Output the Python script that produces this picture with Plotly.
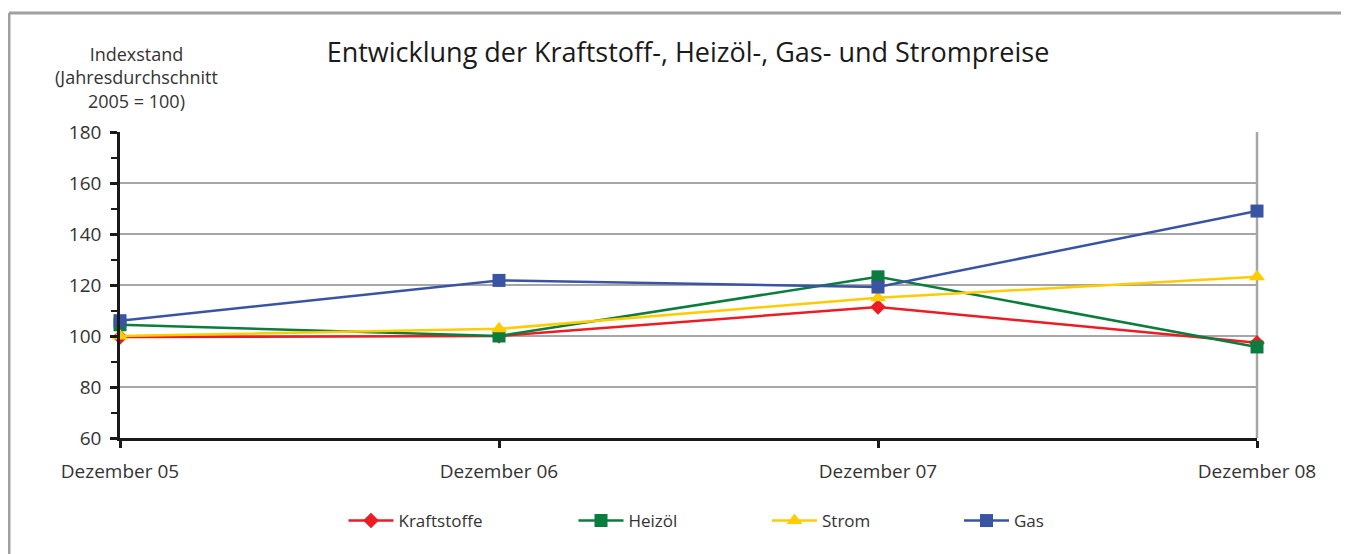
import plotly.graph_objects as go

categories = ["Dezember 05", "Dezember 06", "Dezember 07", "Dezember 08"]
kraftstoffe = [99.6, 100.0, 111.4, 97.3]
heizoel = [104.4, 100.0, 123.2, 95.7]
strom = [100.0, 102.8, 115.0, 123.2]
gas = [106.0, 121.8, 119.2, 149.0]

series_names = ["Kraftstoffe", "Heizöl", "Strom", "Gas"]
series_values = [kraftstoffe, heizoel, strom, gas]
series_colors = ["#ed1c24", "#0a7d3e", "#ffcc00", "#3a54a4"]
series_symbols = ["diamond", "square", "triangle-up", "square"]
series_sizes = [12, 13, 14, 13]

y_ticks = [60, 80, 100, 120, 140, 160, 180]

FONT = "Open Sans"
OFF = 8  # page body margin
W, H = 1349 - OFF, 554 - OFF
# plot area in screen pixels: x 120..1257, y 132..438
L, R, T, B = 120 - OFF, W - (1257 - OFF), 132 - OFF, H - (438 - OFF)
pw, ph = W - L - R, H - T - B

def px_x(x):
    return (x - OFF - L) / pw

def px_y(y):
    return (H - B - (y - OFF)) / ph

legend_ids = ["legend", "legend2", "legend3", "legend4"]
legend_centers = [363.5, 593.5, 787, 979]  # screen x of legend symbol centres

fig = go.Figure()
for name, vals, col, sym, sz, lid in zip(series_names, series_values, series_colors,
                                         series_symbols, series_sizes, legend_ids):
    fig.add_trace(go.Scatter(
        x=categories, y=vals, name=name, mode="lines+markers",
        line=dict(color=col, width=2.5),
        marker=dict(color=col, symbol=sym, size=sz, line=dict(width=0)),
        cliponaxis=False, legend=lid,
    ))

legend_layouts = {}
for lid, cx in zip(legend_ids, legend_centers):
    legend_layouts[lid] = dict(orientation="h", x=px_x(cx - 20), xanchor="left",
                               y=px_y(521), yanchor="middle",
                               font=dict(size=17, color="#333333"),
                               bgcolor="rgba(0,0,0,0)", itemwidth=45)

fig.update_layout(
    width=W, height=H,
    margin=dict(l=L, r=R, t=T, b=B),
    paper_bgcolor="white", plot_bgcolor="white",
    font=dict(family=FONT, color="#333333", size=16),
    title=dict(text="Entwicklung der Kraftstoff-, Heizöl-, Gas- und Strompreise",
               x=(688 - OFF) / W, xanchor="center", y=1 - (53 - OFF) / H, yanchor="middle",
               font=dict(size=27, color="#1a1a1a", family=FONT)),
    showlegend=True,
    xaxis=dict(type="category", range=[0, 3], showgrid=False, zeroline=False,
               showline=True, linecolor="#1a1a1a", linewidth=2.5,
               ticks="outside", ticklen=7, tickwidth=2.5, tickcolor="#1a1a1a",
               ticklabelstandoff=7, tickfont=dict(size=19, color="#333333")),
    yaxis=dict(range=[60, 180], tickvals=y_ticks, showgrid=True, gridcolor="#a6a6a6", gridwidth=2,
               zeroline=False, showline=True, linecolor="#1a1a1a", linewidth=2.5,
               ticks="outside", ticklen=7, tickwidth=2.5, tickcolor="#1a1a1a",
               ticklabelstandoff=5,
               minor=dict(dtick=10, ticks="outside", ticklen=6, tickwidth=2, tickcolor="#1a1a1a", showgrid=False),
               tickfont=dict(size=19, color="#333333")),
    **legend_layouts,
)

fig.add_annotation(text="Indexstand<br>(Jahresdurchschnitt<br>2005 = 100)",
                   xref="paper", yref="paper", x=px_x(136.5), y=px_y(78),
                   xanchor="center", yanchor="middle", showarrow=False, align="center",
                   font=dict(size=18, color="#333333", family=FONT))

# right border of plot area
fig.add_shape(type="line", xref="paper", yref="paper", x0=1, x1=1, y0=0, y1=1,
              line=dict(color="#a6a6a6", width=2.5), layer="below")
# outer frame (top and left)
fig.add_shape(type="line", xref="paper", yref="paper", x0=px_x(9), x1=px_x(1349), y0=px_y(13), y1=px_y(13),
              line=dict(color="#a0a0a0", width=3))
fig.add_shape(type="line", xref="paper", yref="paper", x0=px_x(9), x1=px_x(9), y0=px_y(13), y1=px_y(554),
              line=dict(color="#a0a0a0", width=3))

fig.write_html("out.html")
